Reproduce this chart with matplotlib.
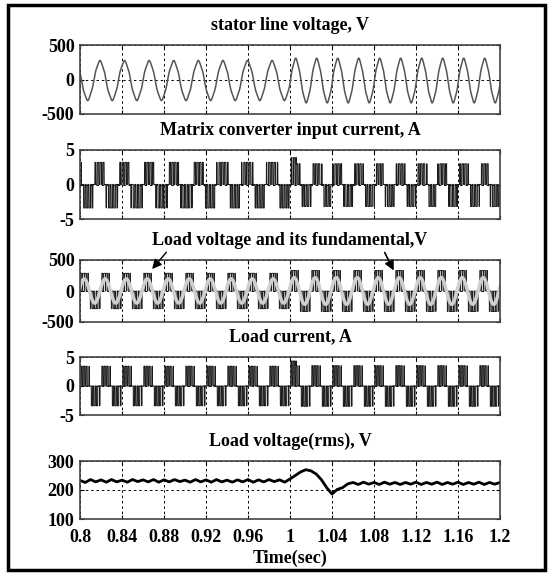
import numpy as np
import matplotlib.pyplot as plt
from matplotlib.patches import Rectangle

plt.rcParams['font.family'] = ['Liberation Serif', 'DejaVu Serif']
plt.rcParams['font.weight'] = 'bold'
plt.rcParams['font.size'] = 13

t_start, t_end, t_step = 0.8, 1.2, 1.0
x_ticks = [0.8, 0.84, 0.88, 0.92, 0.96, 1.0, 1.04, 1.08, 1.12, 1.16, 1.2]
x_labels = ['0.8', '0.84', '0.88', '0.92', '0.96', '1', '1.04', '1.08', '1.12', '1.16', '1.2']

# stator side: frequency (Hz) and peak (V) before / after the step
stator_freq = [42.7, 50.0]
stator_peak = [280, 312]
stator_offset = -15
stator_first_peak = 0.819

# matrix converter input current peak (A): before, step transient, after
input_peak = [3.2, 3.9, 3.0]

# load side
load_freq = 50.0
load_first_peak = 0.804
load_pulse_peak = [285, 330]
load_fund_peak = [195, 215]
load_current_peak = [3.4, 4.3, 3.5]

# load voltage rms (V), one value every 5 ms from 0.8 s to 1.2 s
rms_time = np.round(np.arange(0.8, 1.2001, 0.005), 3)
rms_volt = [
    233, 226, 236, 228, 235, 227, 236, 228, 234, 227,
    236, 229, 235, 228, 236, 227, 235, 228, 236, 229,
    234, 227, 236, 228, 235, 227, 236, 228, 234, 227,
    235, 228, 236, 227, 235, 228, 236, 229, 235, 227,
    238, 250, 262, 270, 266, 255, 235, 208, 186, 202,
    208, 221, 226, 219, 227, 220, 226, 219, 227, 220,
    226, 219, 226, 220, 227, 219, 226, 220, 227, 219,
    226, 220, 227, 219, 226, 220, 227, 219, 226, 220,
    226,
]

t = np.linspace(t_start, t_end, 40001)
after = t >= t_step
transient = after & (t < t_step + 0.006)


def chop(t, ref, f_sw):
    # centre-aligned pulses whose width follows |ref|
    saw = np.abs((t * f_sw) % 1.0 - 0.5) * 2
    return np.sign(ref) * (saw < np.abs(ref))


def three_level(before, spike, later):
    return np.where(transient, spike, np.where(after, later, before))


# stator voltage with continuous phase across the frequency step
th_s = np.where(
    after,
    2 * np.pi * stator_freq[0] * (t_step - stator_first_peak) + 2 * np.pi * stator_freq[1] * (t - t_step),
    2 * np.pi * stator_freq[0] * (t - stator_first_peak),
) + np.pi / 2
v_stator = np.where(after, stator_peak[1], stator_peak[0]) * (np.sin(th_s) + 0.04 * np.sin(5 * th_s)) + stator_offset

ref_in = np.clip(1.5 * np.sin(th_s), -1, 1)
i_input = three_level(*input_peak) * chop(t, 0.55 * ref_in, 380)
i_input = np.where(i_input < 0, i_input * 1.06, i_input)

th_l = 2 * np.pi * load_freq * (t - load_first_peak) + np.pi / 2
v_load = np.where(after, load_pulse_peak[1], load_pulse_peak[0]) * chop(t, 0.8 * np.sin(th_l), 450)
v_fund = np.where(after, load_fund_peak[1], load_fund_peak[0]) * np.sin(th_l)
i_load = three_level(*load_current_peak) * chop(t, 0.55 * np.clip(1.3 * np.sin(th_l), -1, 1), 400)

W, H = 551, 573
fig = plt.figure(figsize=(W / 100, H / 100), dpi=100)

panels = [
    (45, 114, 'stator line voltage, V', [-500, 0, 500]),
    (150, 219, 'Matrix converter input current, A', [-5, 0, 5]),
    (260, 322, 'Load voltage and its fundamental,V', [-500, 0, 500]),
    (357, 415, 'Load current, A', [-5, 0, 5]),
    (461, 519, 'Load voltage(rms), V', [100, 200, 300]),
]

axes = []
for top, bottom, title, yt in panels:
    ax = fig.add_axes([80 / W, 1 - bottom / H, 420 / W, (bottom - top) / H])
    ax.set_xlim(t_start, t_end)
    ax.set_ylim(yt[0], yt[-1])
    ax.set_yticks(yt)
    ax.set_yticklabels([str(v) for v in yt])
    ax.set_xticks(x_ticks)
    ax.set_xticklabels([])
    ax.tick_params(direction='in', top=True, right=True, length=3, width=0.8, pad=4, labelsize=13)
    ax.grid(True, color='k', linestyle=(0, (2.5, 3)), linewidth=0.7)
    for s in ax.spines.values():
        s.set_color('#444')
        s.set_linewidth(1.2)
    ax.set_title(title, fontsize=13, fontweight='bold', pad=11)
    axes.append(ax)

ax1, ax2, ax3, ax4, ax5 = axes
ax1.title.set_y(1.2)

ax1.plot(t, v_stator, color='#555', lw=1.1)
ax2.plot(t, i_input, color='#1a1a1a', lw=0.8)
ax3.plot(t, v_load, color='#222', lw=0.7)
ax3.plot(t, v_fund, color='#cfcfcf', lw=2.5)
ax4.plot(t, i_load, color='#1a1a1a', lw=0.8)
ax5.plot(rms_time, rms_volt, color='k', lw=2)

ax3.annotate('', xy=(0.867, 320), xytext=(0.884, 660), annotation_clip=False,
             arrowprops=dict(arrowstyle='-|>', color='k', lw=1, mutation_scale=14))
ax3.annotate('', xy=(1.1, 290), xytext=(1.089, 660), annotation_clip=False,
             arrowprops=dict(arrowstyle='-|>', color='k', lw=1.2, mutation_scale=14))

ax5.set_xticklabels(x_labels)
ax5.tick_params(axis='x', pad=7)
fig.text(290 / W, 1 - 558 / H, 'Time(sec)', ha='center', va='center', fontsize=13, fontweight='bold')

fig.patches.append(Rectangle((8 / W, 3 / H), 537 / W, 565 / H, transform=fig.transFigure,
                             fill=False, lw=2.5, ec='k'))

fig.savefig('out.png', dpi=100)
